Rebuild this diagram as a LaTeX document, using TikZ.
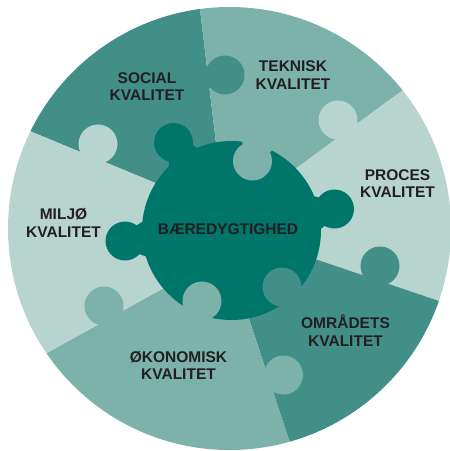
\documentclass[tikz,border=0pt]{standalone}
\usepackage{fontspec}
\setmainfont{Liberation Sans}
\usetikzlibrary{calc}
\definecolor{cA}{RGB}{66,143,135}
\definecolor{cB}{RGB}{125,178,171}
\definecolor{cC}{RGB}{184,212,207}
\definecolor{cD}{RGB}{0,117,106}
\definecolor{txt}{RGB}{35,31,32}
% puzzle tab: colour, tab centre, point on the base side, neck length factor
\newcommand\puzknob[4]{%
  \coordinate (kq) at ($(#2)!#4!(#3)$);
  \fill[#1] ($(#2)!8pt!90:(#3)$) -- ($(#2)!8pt!-90:(#3)$) -- ($(kq)!18pt!-90:(#3)$) -- ($(kq)!18pt!90:(#3)$) -- cycle;
  \fill[#1] (#2) circle[radius=19.5];}
\begin{document}
\begin{tikzpicture}[x=1pt,y=-1pt,
  lbl/.style={align=center,text=txt,font=\fontsize{15.5}{17.7}\selectfont\bfseries,inner sep=0pt}]
\useasboundingbox (0,0) rectangle (450,451);
\coordinate (O) at (229.5,228.5);
\coordinate (M) at (231.5,230.5);
% boundary lines: inner point, outer point
\coordinate (i1) at (216,143); \coordinate (o1) at (200,9);
\coordinate (i2) at (298,167); \coordinate (o2) at (403,90);
\coordinate (i3) at (318,260); \coordinate (o3) at (442,302);
\coordinate (i4) at (250,322); \coordinate (o4) at (290,443);
\coordinate (i5) at (160,290); \coordinate (o5) at (47,353);
\coordinate (i6) at (153,182); \coordinate (o6) at (32,132);
\foreach \k in {1,...,6}{
  \coordinate (a\k) at ($(o\k)!1.25!(i\k)$);
  \coordinate (f\k) at ($(i\k)!3!(o\k)$);
}
% tab centres between outer pieces and their feet on the boundary lines
\coordinate (t1) at (225,75);    \coordinate (p1) at ($(i1)!(t1)!(o1)$);
\coordinate (t2) at (338,120);   \coordinate (p2) at ($(i2)!(t2)!(o2)$);
\coordinate (t3) at (380,266);   \coordinate (p3) at ($(i3)!(t3)!(o3)$);
\coordinate (t4) at (283.5,375); \coordinate (p4) at ($(i4)!(t4)!(o4)$);
\coordinate (t5) at (104,306);   \coordinate (p5) at ($(i5)!(t5)!(o5)$);
\coordinate (t6) at (98,144);    \coordinate (p6) at ($(i6)!(t6)!(o6)$);
\begin{scope}
  \clip (O) circle[radius=221.5];
  \fill[cA] (a6) -- (f6) -- (f1) -- (a1) -- cycle; % social
  \fill[cB] (a1) -- (f1) -- (f2) -- (a2) -- cycle; % teknisk
  \fill[cC] (a2) -- (f2) -- (f3) -- (a3) -- cycle; % proces
  \fill[cA] (a3) -- (f3) -- (f4) -- (a4) -- cycle; % omraadets
  \fill[cB] (a4) -- (f4) -- (f5) -- (a5) -- cycle; % oekonomisk
  \fill[cC] (a5) -- (f5) -- (f6) -- (a6) -- cycle; % miljoe
  \puzknob{cA}{t1}{p1}{1.35}
  \puzknob{cC}{t2}{p2}{1.35}
  \puzknob{cA}{t3}{p3}{1.35}
  \puzknob{cB}{t4}{p4}{1.35}
  \puzknob{cB}{t5}{p5}{1.35}
  \puzknob{cC}{t6}{p6}{1.35}
\end{scope}
% centre piece and its tabs
\fill[cD] (M) circle[radius=89.5];
\coordinate (d1) at (173.5,142.5);
\coordinate (d2) at (334.5,209);
\coordinate (d3) at (125,241);
\puzknob{cD}{d1}{M}{0.19}
\puzknob{cD}{d2}{M}{0.19}
\puzknob{cD}{d3}{M}{0.19}
% tabs of outer pieces reaching into the centre piece
\coordinate (h1) at (252.5,161); \coordinate (q1) at ($(M)!2!(h1)$);
\coordinate (h2) at (282,287);   \coordinate (q2) at ($(M)!2!(h2)$);
\coordinate (h3) at (202,301);   \coordinate (q3) at ($(M)!2!(h3)$);
\puzknob{cB}{h1}{q1}{0.29}
\puzknob{cA}{h2}{q2}{0.29}
\puzknob{cB}{h3}{q3}{0.29}
% labels
\node[lbl] (social) at (147,86.5) {SOCIAL\\KVALITET};
\node[lbl] (teknisk) at (293,75) {TEKNISK\\KVALITET};
\node[lbl] (proces) at (397.5,183.5) {PROCES\\KVALITET};
\node[lbl] (omr) at (345.5,331) {OMRÅDETS\\KVALITET};
\node[lbl] (oek) at (178.5,365.5) {ØKONOMISK\\KVALITET};
\node[lbl] (milj) at (63.5,223) {MILJØ\\KVALITET};
\node[lbl] (baer) at (228,229) {BÆREDYGTIGHED};
\end{tikzpicture}
\end{document}
